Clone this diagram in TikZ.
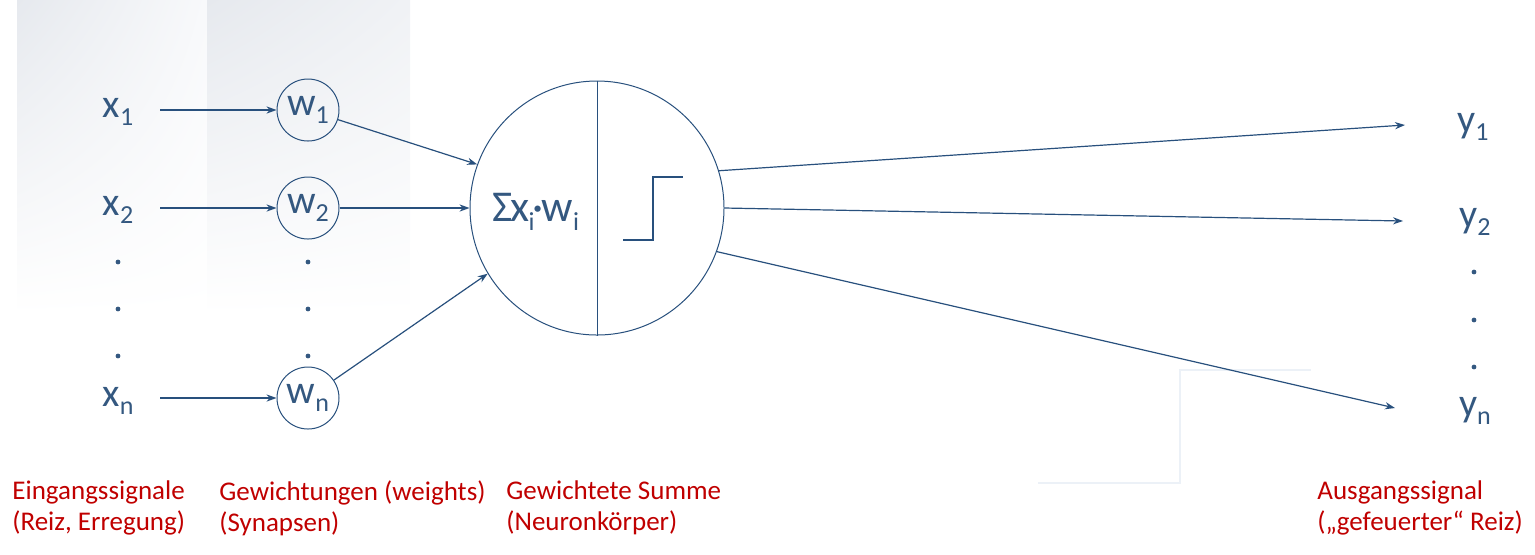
\documentclass[tikz,border=0pt]{standalone}
\usepackage{fontspec}
\setmainfont{Carlito}
\usetikzlibrary{arrows.meta,shadings}
\definecolor{ink}{RGB}{52,88,128}
\definecolor{lineblue}{RGB}{40,80,125}
\definecolor{redlab}{RGB}{192,0,0}
\definecolor{bgA}{RGB}{230,233,238}
\definecolor{bgB}{RGB}{240,242,245}
\definecolor{bgC}{RGB}{248,249,251}
\definecolor{faint}{RGB}{236,241,247}
\newcommand\sbx[1]{\raisebox{-0.45ex}{\fontsize{13}{13}\selectfont #1}}
\tikzset{
  var/.style={inner sep=0pt, text=ink, font=\fontsize{20}{22}\selectfont},
  wnode/.style={circle, draw=lineblue, line width=0.5pt, minimum size=31pt, inner sep=0pt, text=ink, font=\fontsize{20}{22}\selectfont},
  neuron/.style={circle, draw=lineblue, line width=0.5pt, minimum size=127pt, inner sep=0pt},
  arr/.style={draw=lineblue, line width=0.6pt, -{Stealth[length=5pt,width=3.6pt]}},
  lab/.style={text=redlab, font=\fontsize{13.5}{15.5}\selectfont, align=left, anchor=north west, inner sep=0pt},
  dotn/.style={circle, fill=ink, inner sep=0pt, minimum size=2.4pt},
}
\begin{document}
\begin{tikzpicture}[x=0.5pt,y=-0.5pt]
\useasboundingbox (0,0) rectangle (1535,554);
% background panels
\shade[upper left=bgA, upper right=bgC, lower left=white, lower right=white] (17,0) rectangle (207,315);
\shade[upper left=bgA, upper right=bgB, lower left=white, lower right=white] (207,0) rectangle (410,315);
% faint step line
\draw[faint, line width=0.6pt] (1038,483) -- (1180,483) -- (1180,370) -- (1311,370);

% inputs
\node[var] (x1) at (118,112) {x\sbx{1}};
\node[var] (x2) at (118,210) {x\sbx{2}};
\node[var] (xn) at (118,401) {x\sbx{n}};
\node[dotn] (xd1) at (118,262) {};
\node[dotn] (xd2) at (118,309) {};
\node[dotn] (xd3) at (118,356) {};

% weights
\node[wnode] (w1) at (308,110) {w\sbx{1}};
\node[wnode] (w2) at (308,208) {w\sbx{2}};
\node[wnode] (wn) at (308,398) {w\sbx{n}};
\node[dotn] (wd1) at (308,262) {};
\node[dotn] (wd2) at (308,309) {};
\node[dotn] (wd3) at (308,356) {};

\coordinate (s1) at (160,110);
\coordinate (s2) at (160,208);
\coordinate (sn) at (160,398);
\draw[arr] (s1) -- (w1);
\draw[arr] (s2) -- (w2);
\draw[arr] (sn) -- (wn);

% neuron
\node[neuron] (N) at (597,208) {};
\draw[lineblue, line width=0.5pt] (N.north) -- (N.south);
\node[var, font=\fontsize{22}{24}\selectfont, anchor=west] (sum) at (492,212) {Σ\kern-1pt x\kern-0.5pt\sbx{i}\kern-1pt·\kern-1pt w\sbx{i}};
\draw[lineblue, line width=0.6pt] (623,240) -- (653,240) -- (653,177) -- (683,177);

\draw[arr] (w1) -- (N.160);
\draw[arr] (w2) -- (N.180);
\draw[arr] (wn) -- (N.211);

% outputs
\node[var] (y1) at (1473,127) {y\sbx{1}};
\node[var] (y2) at (1475,222) {y\sbx{2}};
\node[var] (yn) at (1475,411) {y\sbx{n}};
\node[dotn] (yd1) at (1474,272) {};
\node[dotn] (yd2) at (1474,320) {};
\node[dotn] (yd3) at (1474,367) {};
\coordinate (t1) at (1405,125);
\coordinate (t2) at (1403,221);
\coordinate (tn) at (1395,408);
\draw[arr] (N.17) -- (t1);
\draw[arr] (N.0) -- (t2);
\draw[arr] (N.-20) -- (tn);

% labels
\node[lab] (l1) at (12,480) {Eingangssignale\\(Reiz, Erregung)};
\node[lab] (l2) at (219,480) {Gewichtungen (weights)\\(Synapsen)};
\node[lab] (l3) at (506,480) {Gewichtete Summe\\(Neuronkörper)};
\node[lab] (l4) at (1317,480) {Ausgangssignal\\(„gefeuerter“ Reiz)};
\end{tikzpicture}
\end{document}
